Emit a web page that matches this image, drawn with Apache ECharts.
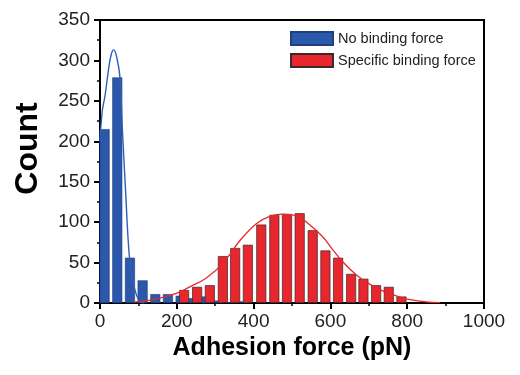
<!DOCTYPE html>
<html>
<head>
<meta charset="utf-8">
<script src="https://cdn.jsdelivr.net/npm/echarts@6/dist/echarts.min.js"></script>
<style>
html,body{margin:0;padding:0;background:#fff;}
#chart{width:520px;height:375px;}
</style>
</head>
<body>
<div id="chart"></div>
<script>
// Histogram: no binding force (bin centers, counts)
var blueX = [12, 45, 78, 111, 144, 177, 210, 243, 276, 309, 342, 375];
var blueY = [215, 279, 56, 28, 11, 11, 9, 6, 8, 3, 1, 2];
// Histogram: specific binding force
var redX = [219, 253, 286, 320, 352, 385, 420, 454, 487, 520, 554, 587, 620, 654, 686, 719, 752, 785];
var redY = [16, 20, 22, 58, 68, 72, 97, 109, 110, 111, 90, 65, 56, 36, 30, 22, 20, 8];
// Fitted curves
var blueFitX = [0, 6, 13, 22, 29, 36, 44, 52, 58, 67, 76, 85, 95, 104, 115];
var blueFitY = [200, 238, 256, 288, 307, 313, 303, 279, 218, 135, 60, 28, 10, 2, 0];
var redFitX = [90, 147, 199, 234, 277, 320, 364, 407, 442, 476, 511, 545, 580, 606, 632, 667, 700, 736, 770, 797, 848, 885];
var redFitY = [1, 5, 12, 20, 31, 49, 77, 98, 107, 110, 108, 97, 82, 66, 51, 35, 24, 15, 9, 5, 1.5, 0.5];
// Axis ticks
var xTicks = {min: 0, max: 1000, step: 200};
var yTicks = {min: 0, max: 350, step: 50};

function zip(a, b) { return a.map(function (v, i) { return [v, b[i]]; }); }
function plain(v) { return String(v); }

var FONT = '"Liberation Sans", Arial, sans-serif';
var chart = echarts.init(document.getElementById('chart'), null, {renderer: 'canvas'});
chart.setOption({
  animation: false,
  backgroundColor: '#fff',
  grid: {left: 100, right: 36, top: 20, bottom: 72, show: true, borderColor: '#000', borderWidth: 2, backgroundColor: 'transparent'},
  legend: {
    orient: 'vertical', left: 285, top: 26,
    icon: 'rect',
    itemWidth: 42, itemHeight: 13, itemGap: 7,
    data: ['No binding force', 'Specific binding force'],
    textStyle: {fontFamily: FONT, fontSize: 14.5, color: '#222'}
  },
  xAxis: {
    type: 'value', min: xTicks.min, max: xTicks.max, interval: xTicks.step,
    name: 'Adhesion force (pN)', nameLocation: 'middle', nameGap: 33,
    nameTextStyle: {fontFamily: FONT, fontSize: 25, fontWeight: 'bold', color: '#000'},
    axisLine: {show: true, lineStyle: {color: '#000', width: 2}},
    axisTick: {show: true, inside: false, length: 6, lineStyle: {color: '#000', width: 2}},
    minorTick: {show: true, splitNumber: 2, length: 3, lineStyle: {color: '#000', width: 1.5}},
    axisLabel: {fontFamily: FONT, fontSize: 19, color: '#222', margin: 9, formatter: plain},
    splitLine: {show: false}
  },
  yAxis: {
    type: 'value', min: yTicks.min, max: yTicks.max, interval: yTicks.step,
    name: 'Count', nameLocation: 'middle', nameGap: 56,
    nameTextStyle: {fontFamily: FONT, fontSize: 32, fontWeight: 'bold', color: '#000', padding: [0, 0, 0, 26]},
    axisLine: {show: true, lineStyle: {color: '#000', width: 2}},
    axisTick: {show: true, inside: false, length: 6, lineStyle: {color: '#000', width: 2}},
    minorTick: {show: true, splitNumber: 2, length: 3, lineStyle: {color: '#000', width: 1.5}},
    axisLabel: {fontFamily: FONT, fontSize: 19, color: '#222', margin: 10, formatter: plain},
    splitLine: {show: false}
  },
  series: [
    {
      name: 'No binding force', type: 'bar', data: zip(blueX, blueY),
      barWidth: 10, barGap: '-100%', z: 2,
      itemStyle: {color: '#2b58aa', borderColor: '#1f3f7f', borderWidth: 0.6}
    },
    {
      name: 'Specific binding force', type: 'bar', data: zip(redX, redY),
      barWidth: 10, barGap: '-100%', z: 3,
      itemStyle: {color: '#e8262d', borderColor: '#3a2a2a', borderWidth: 0.7}
    },
    {
      name: 'fit1', type: 'line', data: zip(blueFitX, blueFitY), smooth: 0.4,
      showSymbol: false, symbol: 'none', z: 4,
      lineStyle: {color: '#2f5fb8', width: 1.4}
    },
    {
      name: 'fit2', type: 'line', data: zip(redFitX, redFitY), smooth: 0.4,
      showSymbol: false, symbol: 'none', z: 4,
      lineStyle: {color: '#e8262d', width: 1.3}
    }
  ]
});
</script>
</body>
</html>
